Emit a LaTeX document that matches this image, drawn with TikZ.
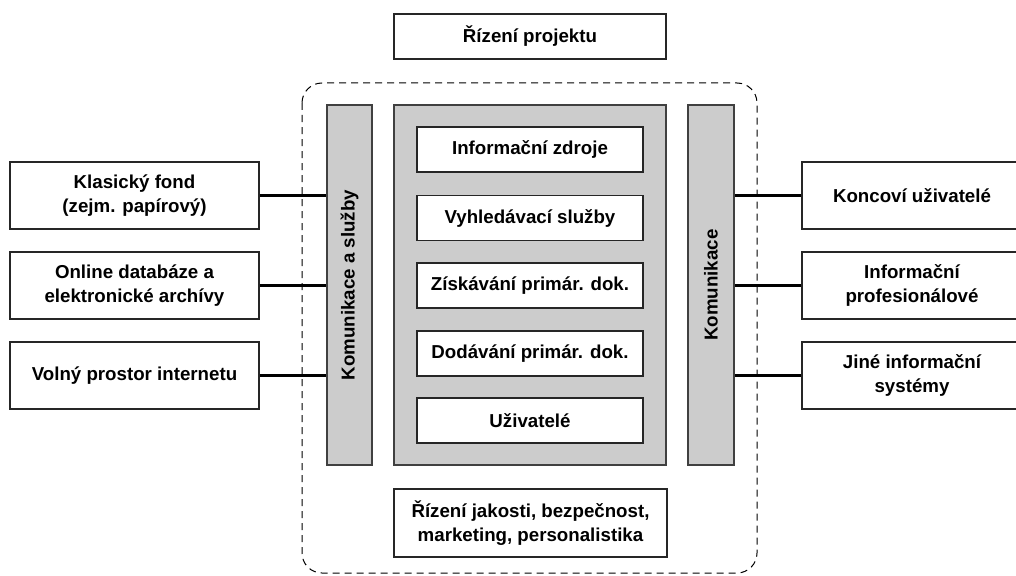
\documentclass[tikz,border=0pt]{standalone}
\usepackage{fontspec}
\setmainfont{Liberation Sans}
\begin{document}
\begin{tikzpicture}[x=1pt,y=-1pt,
  every node/.style={font=\fontsize{18.7}{24}\selectfont\bfseries, align=center, inner sep=0pt},
  box/.style={draw=black!85, fill=white, line width=1.1pt},
  bar/.style={draw=black!75, fill=black!20, line width=1.1pt},
  link/.style={draw=black, line width=2.6pt},
  frame/.style={draw=black, line width=1pt, dash pattern=on 7pt off 5pt, rounded corners=20pt}
]
\useasboundingbox (0,0) rectangle (1016,575);

% project management on top
\node[box, minimum width=272pt, minimum height=45pt] (proj) at (530,36.5) {Řízení projektu};

% dashed boundary of the system
\draw[frame] (302,83) rectangle (757,573);

% vertical bars and the core
\node[bar, minimum width=45pt, minimum height=360pt] (lbar) at (349.5,285) {};
\node[rotate=90] at (lbar.center) {Komunikace a služby};
\node[bar, minimum width=272pt, minimum height=360pt] (core) at (530,285) {};
\node[bar, minimum width=46pt, minimum height=360pt] (rbar) at (711,285) {};
\node[rotate=90] at (rbar.center) {Komunikace};

% services inside the core
\foreach \n/\y/\t in {c1/149.5/Informační zdroje, c2/218/Vyhledávací služby,
  c3/285.5/Získávání primár. dok., c4/353.5/Dodávání primár. dok., c5/420.5/Uživatelé}
  \node[box, minimum width=226pt, minimum height=45pt] (\n) at (530,\y) {\t};

% quality and management box
\node[box, minimum width=273pt, minimum height=68pt] (qual) at (530.5,523)
  {Řízení jakosti, bezpečnost,\\marketing, personalistika};

% sources on the left
\node[box, minimum width=249pt, minimum height=67pt] (l1) at (134.5,195.5) {Klasický fond\\(zejm. papírový)};
\node[box, minimum width=249pt, minimum height=67pt] (l2) at (134.5,285.5) {Online databáze a\\elektronické archívy};
\node[box, minimum width=249pt, minimum height=67pt] (l3) at (134.5,375.5) {Volný prostor internetu};

% users on the right
\node[box, minimum width=220pt, minimum height=67pt] (r1) at (912,195.5) {Koncoví uživatelé};
\node[box, minimum width=220pt, minimum height=67pt] (r2) at (912,285.5) {Informační\\profesionálové};
\node[box, minimum width=220pt, minimum height=67pt] (r3) at (912,375.5) {Jiné informační\\systémy};

% connections
\foreach \a in {l1,l2,l3}
  \draw[link] (\a.east) -- (\a.east -| lbar.west);
\foreach \a in {r1,r2,r3}
  \draw[link] (\a.west) -- (\a.west -| rbar.east);
\end{tikzpicture}
\end{document}
